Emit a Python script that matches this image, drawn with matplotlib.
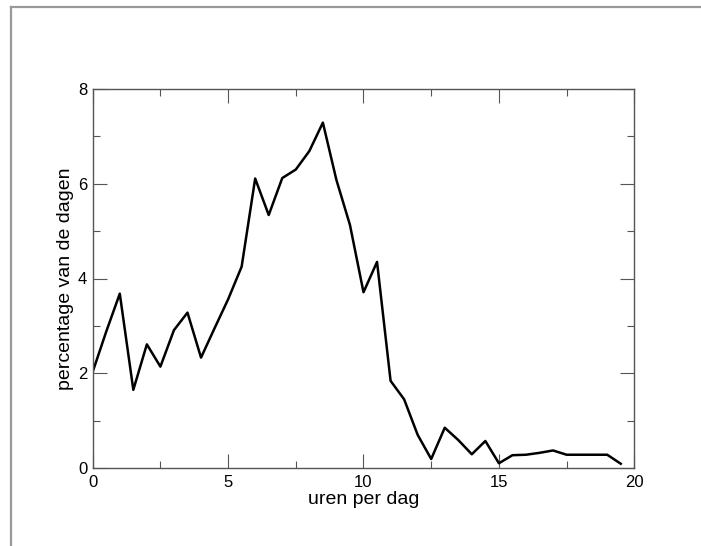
import matplotlib
matplotlib.use("Agg")
import matplotlib.pyplot as plt
from matplotlib.lines import Line2D
from matplotlib.ticker import MultipleLocator

plt.rcParams['font.family'] = ['Liberation Sans', 'DejaVu Sans']

hours = [0, 0.5, 1, 1.5, 2, 2.5, 3, 3.5, 4, 4.5, 5, 5.5, 6, 6.5, 7, 7.5, 8, 8.5, 9, 9.5,
         10, 10.5, 11, 11.5, 12, 12.5, 13, 13.5, 14, 14.5, 15, 15.5, 16, 16.5, 17, 17.5,
         18, 18.5, 19, 19.5]
percent = [2.03, 2.88, 3.68, 1.65, 2.61, 2.14, 2.91, 3.28, 2.33, 2.95, 3.56, 4.25,
           6.11, 5.34, 6.12, 6.30, 6.69, 7.29, 6.08, 5.13, 3.71, 4.35, 1.84, 1.45,
           0.70, 0.19, 0.85, 0.59, 0.29, 0.57, 0.10, 0.27, 0.28, 0.32, 0.37, 0.28,
           0.28, 0.28, 0.28, 0.09]

W, H = 701, 546
fig = plt.figure(figsize=(W / 100, H / 100), dpi=100)
ax = fig.add_axes([92.7 / W, 1 - 468 / H, (634.3 - 92.7) / W, (468 - 89) / H])

ax.plot(hours, percent, color='black', linewidth=1.8)
ax.set_xlim(0, 20)
ax.set_ylim(0, 8)
ax.xaxis.set_major_locator(MultipleLocator(5))
ax.xaxis.set_minor_locator(MultipleLocator(2.5))
ax.yaxis.set_major_locator(MultipleLocator(2))
ax.yaxis.set_minor_locator(MultipleLocator(1))

spine_col = '#555555'
for s in ax.spines.values():
    s.set_color(spine_col)
    s.set_linewidth(1.0)
ax.tick_params(which='both', direction='in', top=True, right=True, color=spine_col, width=0.8)
ax.tick_params(which='major', length=10, labelsize=12, pad=4)
ax.tick_params(which='minor', length=5)
ax.tick_params(axis='x', which='major', pad=5)

ax.set_xlabel('uren per dag', fontsize=14, labelpad=0.5)
ax.set_ylabel('percentage van de dagen', fontsize=14, labelpad=3)

# gray frame lines at top and left of the image
fig.add_artist(Line2D([10.5 / W, 1], [1 - 6.5 / H, 1 - 6.5 / H], color='#999999',
                      linewidth=1.6, transform=fig.transFigure))
fig.add_artist(Line2D([10.5 / W, 10.5 / W], [0, 1 - 6.5 / H], color='#999999',
                      linewidth=1.6, transform=fig.transFigure))

fig.savefig('out.png', dpi=100)
